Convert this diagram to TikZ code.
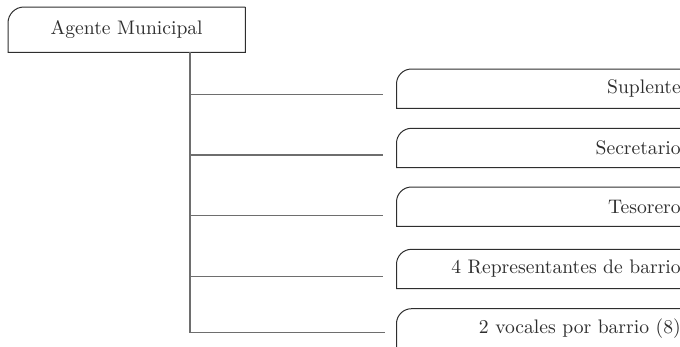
\documentclass[tikz,border=0pt]{standalone}
\usepackage{fontspec}
\setmainfont{lmroman10-regular}[Extension=.otf]
\definecolor{inkdark}{HTML}{2E2E2E}
\definecolor{linkgray}{HTML}{6E6E6E}
\tikzset{
  boxtext/.style={font=\fontsize{19.6}{23}\selectfont, text=inkdark, inner sep=0pt},
  outline/.style={draw=inkdark, line width=1pt},
  link/.style={draw=linkgray, line width=1.3pt},
  rolebox/.style={boxtext, text width=284pt, align=right, minimum height=39pt, anchor=north west},
}
\begin{document}
\begin{tikzpicture}[x=1pt,y=1pt]
\useasboundingbox (0,0) rectangle (680,-346);

% head of the organisation
\node[boxtext, minimum width=237pt, minimum height=45pt, anchor=north west] (agent) at (8,-7) {Agente Municipal};
\draw[outline] (agent.north east) -- (agent.south east) -- (agent.south west)
  -- ([yshift=-16pt]agent.north west) arc[start angle=180, end angle=90, radius=16pt]
  -- (agent.north east);

% subordinate roles (open on the right)
\node[rolebox] (r1) at (396.5,-69)   {Suplente};
\node[rolebox] (r2) at (396.5,-128.3) {Secretario};
\node[rolebox] (r3) at (396.5,-187)  {Tesorero};
\node[rolebox] (r4) at (396.5,-249.3) {4 Representantes de barrio};
\node[rolebox] (r5) at (396.5,-308.7) {2 vocales por barrio (8)};

\foreach \n in {r1,r2,r3,r4,r5}{
  \draw[outline] (\n.south east) -- (\n.south west)
    -- ([yshift=-15pt]\n.north west) arc[start angle=180, end angle=90, radius=15pt]
    -- (\n.north east);
}

% trunk and branches
\coordinate (trunk) at (190,-52);
\coordinate (e1) at (383,-94.3);
\coordinate (e2) at (383,-155);
\coordinate (e3) at (383,-215.7);
\coordinate (e4) at (382.5,-276.7);
\coordinate (e5) at (385,-332.7);
\foreach \e in {e1,e2,e3,e4,e5}{
  \draw[link] (trunk) |- (\e);
}
\end{tikzpicture}
\end{document}
